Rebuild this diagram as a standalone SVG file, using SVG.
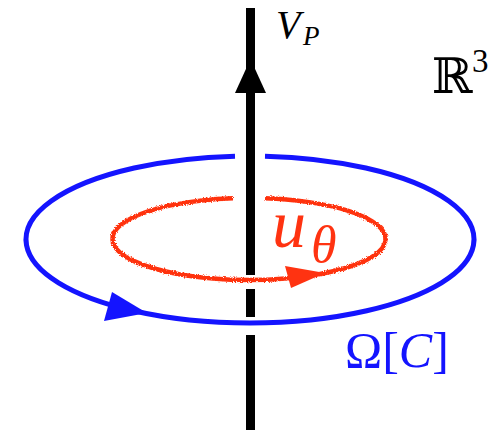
<svg xmlns="http://www.w3.org/2000/svg" width="492" height="430" viewBox="0 0 492 430">
  <defs>
    <style>
      .axis { stroke: #000; stroke-width: 9; fill: none; }
      .blue { stroke: #1414ff; stroke-width: 5; fill: none; }
      .red { stroke: #ff3311; stroke-width: 4.5; fill: none; }
      .math { font-family: "Liberation Serif", "DejaVu Serif", serif; font-style: italic; }
    </style>
    <filter id="rough" x="-10%" y="-30%" width="120%" height="160%">
      <feTurbulence type="fractalNoise" baseFrequency="0.9" numOctaves="2" seed="4"/>
      <feDisplacementMap in="SourceGraphic" scale="3.5" xChannelSelector="R" yChannelSelector="G"/>
    </filter>
  </defs>
  <rect width="492" height="430" fill="#fff"/>

  <g id="axis">
    <line class="axis" x1="250.5" y1="8" x2="250.5" y2="275"/>
    <line class="axis" x1="250.5" y1="289" x2="250.5" y2="317"/>
    <line class="axis" x1="250.5" y1="335" x2="250.5" y2="430"/>
    <polygon points="250.5,59 235,93 266,93" fill="#000"/>
  </g>

  <g id="omega-loop">
    <path class="blue" d="M 235 156.2 A 224 83.5 0 1 0 265 156.2"/>
    <polygon points="112,292 104,321 147,313" fill="#1414ff"/>
  </g>

  <g id="u-loop">
    <path class="red" filter="url(#rough)" d="M 233 198.3 A 136.5 41 0 1 0 265 198.3"/>
    <polygon points="285,266 291,288 325,273" fill="#ff3311"/>
  </g>

  <g id="labels">
    <text class="math" x="276" y="38" font-size="40">V</text>
    <text class="math" x="303" y="45" font-size="27">P</text>
    <text x="432" y="93" font-size="49" font-family="DejaVu Serif, serif">ℝ</text>
    <text x="472" y="72" font-size="33" font-family="Liberation Serif, serif">3</text>
    <text class="math" x="272" y="247" font-size="68" fill="#ff3311">u</text>
    <text class="math" x="311" y="262" font-size="52" fill="#ff3311">θ</text>
    <text x="345" y="367" font-size="50" font-family="Liberation Serif, serif" fill="#1414ff">Ω[<tspan font-style="italic">C</tspan>]</text>
  </g>
</svg>
